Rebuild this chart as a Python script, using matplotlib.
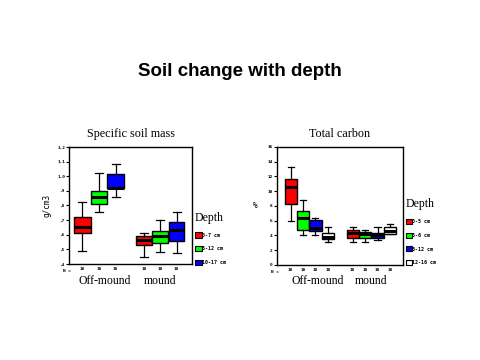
import matplotlib
matplotlib.use('Agg')
import matplotlib.pyplot as plt
from matplotlib.patches import Patch

# specific soil mass (g/cm3): whisker low, q1, median, q3, whisker high
mass_off_low = [0.49, 0.758, 0.855]
mass_off_q1 = [0.61, 0.808, 0.917]
mass_off_med = [0.649, 0.858, 0.921]
mass_off_q3 = [0.719, 0.896, 1.012]
mass_off_high = [0.826, 1.019, 1.08]
mass_mnd_low = [0.447, 0.481, 0.477]
mass_mnd_q1 = [0.531, 0.545, 0.558]
mass_mnd_med = [0.563, 0.592, 0.633]
mass_mnd_q3 = [0.588, 0.622, 0.683]
mass_mnd_high = [0.61, 0.697, 0.753]
mass_depths = ['0-7 cm', '5-12 cm', '10-17 cm']
mass_yticks = [0.4, 0.5, 0.6, 0.7, 0.8, 0.9, 1.0, 1.1, 1.2]
mass_yticklabels = [',4', ',5', ',6', ',7', ',8', ',9', '1,0', '1,1', '1,2']

# total carbon (%)
carb_off_low = [6.0, 4.1, 4.05, 3.05]
carb_off_q1 = [8.3, 4.8, 4.6, 3.5]
carb_off_med = [10.6, 6.4, 5.0, 3.8]
carb_off_q3 = [11.6, 7.25, 6.1, 4.3]
carb_off_high = [13.3, 8.8, 6.4, 5.2]
carb_mnd_low = [3.15, 3.05, 3.35, 4.25]
carb_mnd_q1 = [3.6, 3.65, 3.6, 4.25]
carb_mnd_med = [4.3, 4.2, 4.0, 4.6]
carb_mnd_q3 = [4.8, 4.4, 4.3, 5.1]
carb_mnd_high = [5.1, 4.7, 5.1, 5.6]
carb_depths = ['0-5 cm', '5-6 cm', '6-12 cm', '12-16 cm']
carb_yticks = [0, 2, 4, 6, 8, 10, 12, 14, 16]

n_label = '18'
colors = ['#ff0000', '#00ff00', '#0000ff', '#ffffff']

tiny = dict(family='DejaVu Sans Mono', fontsize=3.2, fontweight='bold')
serif = 'Liberation Serif'


def stats(low, q1, med, q3, high):
    return [dict(whislo=a, q1=b, med=c, q3=d, whishi=e, fliers=[])
            for a, b, c, d, e in zip(low, q1, med, q3, high)]


def draw(ax, st, pos, width, cols):
    bp = ax.bxp(st, positions=pos, widths=width, patch_artist=True,
                showfliers=False,
                boxprops=dict(linewidth=1.0, edgecolor='black'),
                medianprops=dict(color='black', linewidth=2.2),
                whiskerprops=dict(color='black', linewidth=0.9),
                capprops=dict(color='black', linewidth=0.9),
                capwidths=width * 0.5)
    for b, c in zip(bp['boxes'], cols):
        b.set_facecolor(c)


def style_axes(ax):
    for s in ax.spines.values():
        s.set_linewidth(1.0)
    ax.tick_params(axis='y', length=2, width=0.8, pad=1)
    ax.tick_params(axis='x', length=0, pad=2)
    for lab in ax.get_yticklabels() + ax.get_xticklabels():
        lab.set_fontfamily(tiny['family'])
        lab.set_fontsize(tiny['fontsize'])
        lab.set_fontweight('bold')


def depth_legend(ax, cols, labels, anchor_y):
    ax.legend([Patch(facecolor=c, edgecolor='black', linewidth=0.8) for c in cols],
              labels, title='Depth', loc='upper left', bbox_to_anchor=(1.0, anchor_y),
              frameon=False, prop=dict(family='DejaVu Sans Mono', size=3.6, weight='bold'),
              title_fontproperties=dict(family=serif, size=8.5),
              handlelength=1.3, handleheight=1.2, handletextpad=0.0,
              labelspacing=1.7, borderaxespad=0.2, alignment='left')


fig = plt.figure(figsize=(4.8, 3.6), dpi=100)
fig.patch.set_facecolor('white')

fig.text(0.5, 0.8, 'Soil change with depth', ha='center', va='center',
         family='Liberation Sans', fontsize=13.5, fontweight='bold')

# left panel
ax1 = fig.add_axes([0.144, 0.267, 0.256, 0.325])
pos_off = [1, 2, 3]
pos_mnd = [4.7, 5.67, 6.67]
draw(ax1, stats(mass_off_low, mass_off_q1, mass_off_med, mass_off_q3, mass_off_high),
     pos_off, 0.98, colors)
draw(ax1, stats(mass_mnd_low, mass_mnd_q1, mass_mnd_med, mass_mnd_q3, mass_mnd_high),
     pos_mnd, 0.95, colors)
ax1.set_xlim(0.2, 7.6)
ax1.set_ylim(0.4, 1.2)
ax1.set_yticks(mass_yticks)
ax1.set_yticklabels(mass_yticklabels)
ax1.set_xticks(pos_off + pos_mnd)
ax1.set_xticklabels([n_label] * 6)
style_axes(ax1)
ax1.text(-0.02, -0.04, 'N =', transform=ax1.transAxes, ha='center', va='top', **tiny)
ax1.set_title('Specific soil mass', family=serif, fontsize=8.7, pad=7)
ax1.text(-0.18, 0.5, 'g/cm3', transform=ax1.transAxes, rotation=90,
         ha='center', va='center', family='DejaVu Sans Mono', fontsize=5.5)
depth_legend(ax1, colors[:3], mass_depths, 0.47)
fig.text(105 / 480, 1 - 281 / 360, 'Off-mound', ha='center', va='center',
         family=serif, fontsize=8.5)
fig.text(160 / 480, 1 - 281 / 360, 'mound', ha='center', va='center',
         family=serif, fontsize=8.5)

# right panel
ax2 = fig.add_axes([0.577, 0.264, 0.2625, 0.328])
pos_off2 = [1, 2, 3, 4]
pos_mnd2 = [6, 7, 8, 9]
draw(ax2, stats(carb_off_low, carb_off_q1, carb_off_med, carb_off_q3, carb_off_high),
     pos_off2, 0.98, colors)
draw(ax2, stats(carb_mnd_low, carb_mnd_q1, carb_mnd_med, carb_mnd_q3, carb_mnd_high),
     pos_mnd2, 0.98, colors)
ax2.set_xlim(-0.1, 10.05)
ax2.set_ylim(0, 16)
ax2.set_yticks(carb_yticks)
ax2.set_xticks(pos_off2 + pos_mnd2)
ax2.set_xticklabels([n_label] * 8)
style_axes(ax2)
ax2.text(-0.02, -0.04, 'N =', transform=ax2.transAxes, ha='center', va='top', **tiny)
ax2.set_title('Total carbon', family=serif, fontsize=8.7, pad=7)
ax2.text(-0.17, 0.5, '%', transform=ax2.transAxes,
         ha='center', va='center', family='DejaVu Sans Mono', fontsize=5.5)
depth_legend(ax2, colors, carb_depths, 0.59)
fig.text(318 / 480, 1 - 281 / 360, 'Off-mound', ha='center', va='center',
         family=serif, fontsize=8.5)
fig.text(371 / 480, 1 - 281 / 360, 'mound', ha='center', va='center',
         family=serif, fontsize=8.5)

fig.savefig('out.png', dpi=100)
